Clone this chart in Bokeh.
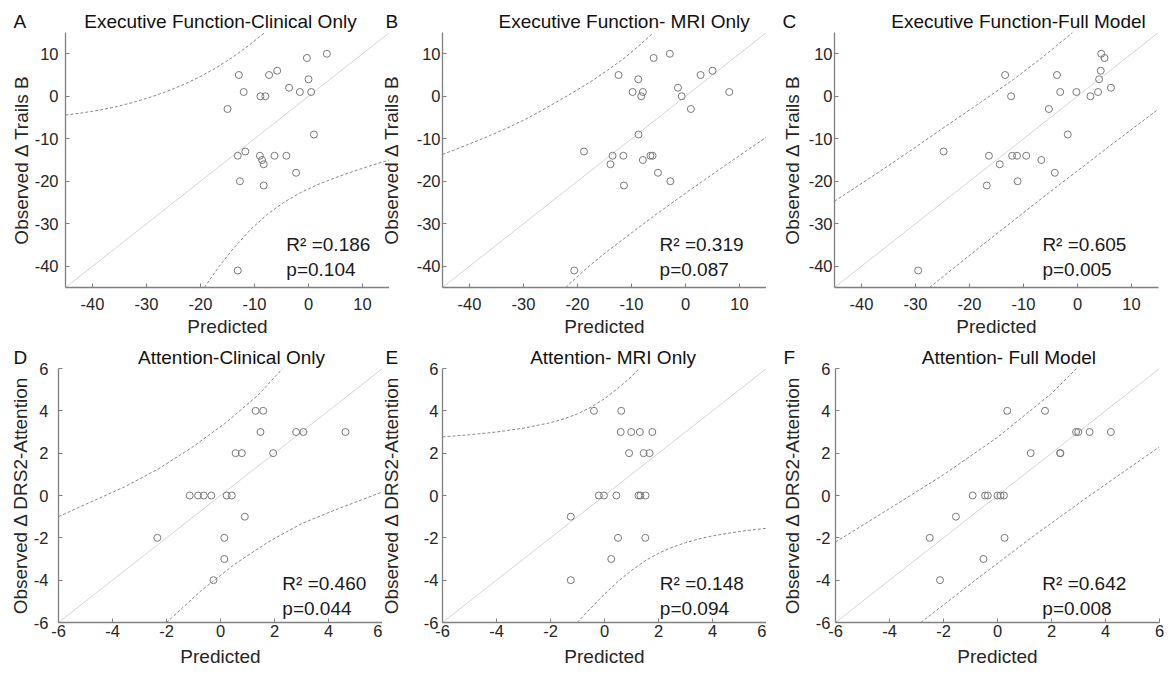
from bokeh.plotting import figure
from bokeh.models import Range1d, FixedTicker, Label
from bokeh.layouts import column, row
from bokeh.embed import file_html
from bokeh.resources import INLINE

FONT = "Liberation Sans"

# ---------------- axis ranges / ticks ----------------
ef_range = [-45, 15]
ef_ticks = [-40, -30, -20, -10, 0, 10]
at_range = [-6, 6]
at_ticks = [-6, -4, -2, 0, 2, 4, 6]

# ---------------- texts ----------------
titles = ["Executive Function-Clinical Only", "Executive Function- MRI Only", "Executive Function-Full Model",
          "Attention-Clinical Only", "Attention- MRI Only", "Attention- Full Model"]
letters = ["A", "B", "C", "D", "E", "F"]
r2_text = ["R\u00b2 =0.186", "R\u00b2 =0.319", "R\u00b2 =0.605", "R\u00b2 =0.460", "R\u00b2 =0.148", "R\u00b2 =0.642"]
p_text = ["p=0.104", "p=0.087", "p=0.005", "p=0.044", "p=0.094", "p=0.008"]
ylab_ef = "Observed \u0394 Trails B"
ylab_at = "Observed \u0394 DRS2-Attention"
xlab = "Predicted"

# ---------------- scatter data ----------------
A_x = [3.4, -0.3, -5.8, -12.9, -7.3, 0.0, -3.6, -12.0, -1.6, 0.5, -8.9, -8.0, -15.0, 1.0, -13.1, -11.7, -9.0, -8.6, -8.3, -6.3, -4.1, -2.3, -12.7, -8.3, -13.1]
A_y = [10, 9, 6, 5, 5, 4, 2, 1, 1, 1, 0, 0, -3, -9, -14, -13, -14, -15, -16, -14, -14, -18, -20, -21, -41]
B_x = [-2.9, -5.9, 5.0, -12.4, 2.8, -8.75, -1.4, -9.8, -7.9, 8.1, -8.2, -0.7, 1.0, -8.7, -18.8, -13.5, -11.5, -6.5, -6.1, -13.9, -7.9, -5.1, -2.8, -11.4, -20.6]
B_y = [10, 9, 6, 5, 5, 4, 2, 1, 1, 1, 0, 0, -3, -9, -13, -14, -14, -14, -14, -16, -15, -18, -20, -21, -41]
C_x = [4.4, 5.0, 4.3, -13.4, -3.8, 4.0, -3.2, -0.2, 3.8, 6.2, -12.3, 2.4, -5.3, -1.8, -24.8, -16.4, -12.1, -11.2, -9.5, -14.4, -6.7, -4.2, -11.1, -16.8, -29.5]
C_y = [10, 9, 6, 5, 5, 4, 1, 1, 1, 2, 0, 0, -3, -9, -13, -14, -14, -14, -14, -16, -15, -18, -20, -21, -41]
D_x = [1.3, 1.58, 1.48, 2.8, 3.07, 4.63, 0.56, 0.79, 1.95, -1.14, -0.83, -0.62, -0.34, 0.23, 0.42, 0.9, -2.34, 0.14, 0.14, -0.26]
D_y = [4, 4, 3, 3, 3, 3, 2, 2, 2, 0, 0, 0, 0, 0, 0, -1, -2, -2, -3, -4]
E_x = [-0.39, 0.62, 0.6, 0.99, 1.31, 1.77, 0.91, 1.45, 1.67, -0.21, -0.02, 0.44, 1.26, 1.33, 1.52, -1.25, 0.5, 1.51, 0.25, -1.25]
E_y = [4, 4, 3, 3, 3, 3, 2, 2, 2, 0, 0, 0, 0, 0, 0, -1, -2, -2, -3, -4]
F_x = [0.36, 1.76, 2.91, 2.99, 3.41, 4.2, 1.23, 2.32, 2.33, -0.92, -0.46, -0.36, 0.0, 0.11, 0.24, -1.54, -2.51, 0.26, -0.52, -2.13]
F_y = [4, 4, 3, 3, 3, 3, 2, 2, 2, 0, 0, 0, 0, 0, 0, -1, -2, -2, -3, -4]

# ---------------- prediction-interval curves ----------------
A_up_x = [-45, -41.9, -38.8, -35.725, -32.65, -29.575, -26.5, -23.4, -20.3, -17.25, -14.2, -11.15, -8.1]
A_up_y = [-4.44, -3.91, -3.29, -2.49, -1.51, -0.34, 1.0, 2.6, 4.45, 6.6, 9.05, 11.85, 15.0]
A_lo_x = [-19.3, -16.55, -13.8, -10.7, -7.65, -4.6, -1.5, 1.6, 4.7, 7.8, 10.9, 12.95, 15]
A_lo_y = [-45, -40.05, -35.65, -31.31, -27.8, -24.99, -22.7, -20.84, -19.29, -17.89, -16.59, -15.77, -14.99]
B_up_x = [-45, -40.55, -36.1, -33.0, -29.9, -26.85, -23.8, -20.7, -17.6, -14.5, -11.4, -8.65, -5.9]
B_up_y = [-13.7, -11.5, -9.2, -7.45, -5.6, -3.5, -1.3, 1.0, 3.4, 6.05, 8.9, 11.85, 15]
B_lo_x = [-22.2, -19.9, -17.6, -14.5, -11.4, -5.25, 0.9, 7.1, 15]
B_lo_y = [-45, -42.3, -39.7, -36.5, -33.5, -27.6, -22.0, -16.5, -9.6]
C_up_x = [-45, -36.5, -30.3, -24.1, -17.95, -11.8, -6.35, -0.9]
C_up_y = [-24.7, -17.6, -12.25, -6.8, -1.45, 4.0, 9.3, 15]
C_lo_x = [-27.4, -18.0, -5.6, 6.7, 15]
C_lo_y = [-45, -35.4, -23.0, -11.0, -3.0]
D_up_x = [-6, -4.79, -3.55, -2.31, -1.08, 0.16, 1.4, 2.3]
D_up_y = [-1.0, -0.3, 0.41, 1.25, 2.25, 3.4, 4.75, 6.0]
D_lo_x = [-2.0, -0.72, 0.52, 1.76, 3.0, 4.23, 6.0]
D_lo_y = [-6, -4.5, -3.25, -2.2, -1.33, -0.69, 0.17]
E_up_x = [-6, -5, -4, -3, -2, -1.5, -1, -0.5, 0, 0.5, 1.0, 1.29]
E_up_y = [2.77, 2.87, 3.0, 3.18, 3.44, 3.62, 3.86, 4.17, 4.57, 5.07, 5.62, 6.0]
E_lo_x = [-1.01, -0.5, 0, 0.5, 1.0, 1.5, 2.0, 2.5, 3.0, 3.5, 4.0, 4.5, 5.0, 5.5, 6.0]
E_lo_y = [-6, -5.31, -4.66, -4.06, -3.54, -3.09, -2.73, -2.45, -2.23, -2.05, -1.91, -1.8, -1.7, -1.62, -1.55]
F_up_x = [-6, -4.0, -2.0, 0.0, 2.0, 2.93]
F_up_y = [-2.2, -0.62, 0.98, 2.75, 4.82, 6.0]
F_lo_x = [-2.84, -0.6, 1.5, 3.36, 6.0]
F_lo_y = [-6, -3.78, -1.76, -0.05, 2.3]

AX = "#808080"
TXT = "#262626"
NBSP = "\u00a0"


def panel(i, rng, ticks, xs, ys, ux, uy, lx, ly, ylab, ann_x, ann_y,
          bl, br, bt, bb, fh, ts, ls, xts, xls, t_off, t_sp, shift):
    kw = {}
    if shift:
        kw["styles"] = {"transform": "translateX(%dpx)" % shift}
    p = figure(frame_width=324, frame_height=fh,
               x_range=Range1d(rng[0], rng[1]), y_range=Range1d(rng[0], rng[1]),
               output_backend="svg", toolbar_location=None,
               min_border_left=bl, min_border_right=br, min_border_top=bt, min_border_bottom=bb,
               background_fill_color="white", border_fill_color=None, **kw)
    p.outline_line_color = None
    p.grid.visible = False
    p.title.text = letters[i] + NBSP * t_sp + titles[i]
    p.title.align = "left"
    p.title.offset = t_off
    p.title.text_font = FONT
    p.title.text_font_size = "19px"
    p.title.text_font_style = "normal"
    p.title.text_color = "#111111"
    p.title.standoff = 1
    for ax in (p.xaxis, p.yaxis):
        ax.ticker = FixedTicker(ticks=ticks)
        ax.major_label_overrides = {t: str(t) for t in ticks}
        ax.major_tick_in = 4
        ax.major_tick_out = 0
        ax.minor_tick_in = 0
        ax.minor_tick_out = 0
        ax.axis_line_color = AX
        ax.axis_line_width = 1.3
        ax.major_tick_line_color = AX
        ax.major_label_text_font = FONT
        ax.major_label_text_font_size = "16.5px"
        ax.major_label_text_color = TXT
        ax.axis_label_text_font = FONT
        ax.axis_label_text_font_size = "19px"
        ax.axis_label_text_font_style = "normal"
        ax.axis_label_text_color = TXT
    p.xaxis.major_label_standoff = xts
    p.xaxis.axis_label = xlab
    p.xaxis.axis_label_standoff = xls
    p.yaxis.major_label_standoff = ts
    p.yaxis.axis_label = ylab
    p.yaxis.axis_label_standoff = ls

    p.line(rng, rng, line_color="#d6d6d6", line_width=1)
    p.line(ux, uy, line_color="#8a8a8a", line_width=1, line_dash="3 2")
    p.line(lx, ly, line_color="#8a8a8a", line_width=1, line_dash="3 2")
    p.scatter(xs, ys, marker="circle", size=7, fill_color=None, line_color="#7a7a7a", line_width=1)

    p.add_layout(Label(x=ann_x, y=ann_y, text=r2_text[i], text_font=FONT, text_font_size="19px",
                       text_color="#1a1a1a", text_baseline="alphabetic"))
    p.add_layout(Label(x=ann_x, y=ann_y, y_offset=-25, text=p_text[i], text_font=FONT,
                       text_font_size="19px", text_color="#1a1a1a", text_baseline="alphabetic"))
    return p


pA = panel(0, ef_range, ef_ticks, A_x, A_y, A_up_x, A_up_y, A_lo_x, A_lo_y, ylab_ef, -4.1, -34.9,
           65, 0, 32, 56, 255, 7, 0, 10, 3, -52, 11, 0)
pB = panel(1, ef_range, ef_ticks, B_x, B_y, B_up_x, B_up_y, B_lo_x, B_lo_y, ylab_ef, -4.8, -34.9,
           70, 0, 32, 56, 255, 2, 12, 10, 3, -57, 19, -17)
pC = panel(2, ef_range, ef_ticks, C_x, C_y, C_up_x, C_up_y, C_lo_x, C_lo_y, ylab_ef, -6.5, -34.9,
           62, 2, 32, 56, 255, 2, 3, 10, 3, -52, 18, -11)
pD = panel(3, at_range, at_ticks, D_x, D_y, D_up_x, D_up_y, D_lo_x, D_lo_y, ylab_at, 2.29, -4.17,
           58, 0, 25, 46, 254, 10, 0, 2, 6, -45, 21, 0)
pE = panel(4, at_range, at_ticks, E_x, E_y, E_up_x, E_up_y, E_lo_x, E_lo_y, ylab_at, 2.05, -4.17,
           70, 0, 25, 46, 254, 4, 19, 2, 6, -57, 25, -10)
pF = panel(5, at_range, at_ticks, F_x, F_y, F_up_x, F_up_y, F_lo_x, F_lo_y, ylab_at, 1.66, -4.17,
           62, 5, 25, 46, 254, 5, 10, 2, 6, -52, 24, -3)

layout = column(row(pA, pB, pC), row(pD, pE, pF))
open("out.html", "w").write(file_html(layout, INLINE, title="chart"))
